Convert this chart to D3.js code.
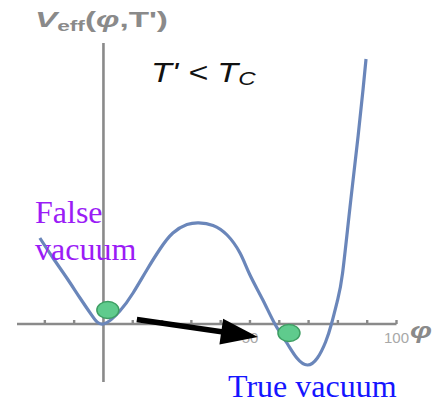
<!DOCTYPE html>
<html>
<head>
<meta charset="utf-8">
<script src="https://cdn.jsdelivr.net/npm/d3@7"></script>
<style>
  html, body { margin: 0; padding: 0; background: #fff; }
  svg { display: block; }
</style>
</head>
<body>
<svg id="chart" width="439" height="404"></svg>
<script>
// Effective potential V_eff(φ, T') below the critical temperature
const phi = [-21.7, -17.2, -12.5, -8.0, -3.9, 0, 5.6, 10.1, 14.8, 19.3, 23.7, 28.5, 32.5,
             37.4, 42.2, 46.6, 50.0, 54.4, 58.5, 62.6, 66.0, 69.6, 73.0, 75.8, 77.8, 79.9,
             81.6, 84.1, 86.9, 88.6, 89.6];
const veff = [43, 33, 23, 13, 4.2, 0, 6.5, 15.5, 27, 37.5, 45.5, 49.7, 50.6,
              49.3, 44.5, 35.5, 24.5, 12, 0, -9.5, -17, -20.5, -17, -9, 0, 12,
              25.5, 58, 94, 117.5, 132.5];

// x-axis ticks: minor every 10, labelled at 50 and 100
const minorTicks = [-20, -10, 10, 20, 30, 40, 50, 60, 70, 80, 90, 100];
const tickLabels = [50, 100];

// vacuum states (ball positions) and tunnelling arrow endpoints
const balls = [{phi: 1.5, v: 7}, {phi: 63.3, v: -4.5}];
const arrowFrom = {phi: 11.4, v: 2.25};
const arrowTo = {phi: 52.7, v: -6.5};

const svg = d3.select("#chart");
const x = d3.scaleLinear().domain([-29.5, 100]).range([17, 396.5]);
const y = d3.scaleLinear().domain([-29, 139.5]).range([382, 45]);

const axisColor = "#8a8a8a";

// stretch a text element horizontally so it spans [x0, x1]
function fitWidth(sel, x0, x1) {
  const w = sel.node().getBBox().width;
  const sx = (x1 - x0) / w;
  sel.attr("transform", `translate(${x0},0) scale(${sx},1) translate(${-x0},0)`);
}

// axes
const g = svg.append("g");
g.append("line")
  .attr("x1", x(-29.5)).attr("x2", x(100))
  .attr("y1", y(0)).attr("y2", y(0))
  .attr("stroke", axisColor).attr("stroke-width", 2.6);
g.append("line")
  .attr("x1", x(0)).attr("x2", x(0))
  .attr("y1", y(-29)).attr("y2", y(140.5))
  .attr("stroke", axisColor).attr("stroke-width", 2.6);

g.selectAll("line.tick").data(minorTicks).join("line")
  .attr("class", "tick")
  .attr("x1", d => x(d)).attr("x2", d => x(d))
  .attr("y1", y(0)).attr("y2", y(0) - 4)
  .attr("stroke", axisColor).attr("stroke-width", 2.4);

g.selectAll("text.ticklabel").data(tickLabels).join("text")
  .attr("class", "ticklabel")
  .attr("x", d => x(d)).attr("y", y(0) + 19)
  .attr("text-anchor", "middle")
  .attr("font-family", "Liberation Sans, Arial, sans-serif")
  .attr("font-size", 15)
  .attr("fill", "#a8a8a8")
  .text(d => d);

// axis label φ
const phiLabel = svg.append("text")
  .attr("x", 410).attr("y", 338)
  .attr("font-family", "Liberation Sans, Arial, sans-serif")
  .attr("font-size", 23).attr("font-weight", "bold").attr("font-style", "italic")
  .attr("fill", axisColor)
  .text("φ");
fitWidth(phiLabel, 410, 432);

// title V_eff(φ,T')
const title = svg.append("text")
  .attr("x", 35).attr("y", 27)
  .attr("font-family", "Liberation Sans, Arial, sans-serif")
  .attr("font-weight", "bold")
  .attr("fill", axisColor);
title.append("tspan").attr("font-size", 22).attr("font-style", "italic").text("V");
title.append("tspan").attr("font-size", 15).attr("dy", 4).text("eff");
title.append("tspan").attr("font-size", 22).attr("dy", -4).text("(");
title.append("tspan").attr("font-size", 22).attr("font-style", "italic").text("φ");
title.append("tspan").attr("font-size", 22).text(",T')");
fitWidth(title, 35, 168);

// T' < T_C
const cond = svg.append("text")
  .attr("x", 151).attr("y", 82)
  .attr("font-family", "Liberation Sans, Arial, sans-serif")
  .attr("font-style", "italic")
  .attr("fill", "#111");
cond.append("tspan").attr("font-size", 27).text("T' < T");
cond.append("tspan").attr("font-size", 19).attr("dy", 3).text("C");
fitWidth(cond, 151, 256);

// potential curve
const line = d3.line()
  .x(d => x(d[0]))
  .y(d => y(d[1]))
  .curve(d3.curveNatural);
svg.append("path")
  .datum(d3.zip(phi, veff))
  .attr("d", line)
  .attr("fill", "none")
  .attr("stroke", "#6a86ba")
  .attr("stroke-width", 3.2);

// balls at the false and true vacuum
svg.selectAll("ellipse.ball").data(balls).join("ellipse")
  .attr("class", "ball")
  .attr("cx", d => x(d.phi)).attr("cy", d => y(d.v))
  .attr("rx", 11).attr("ry", 8.5)
  .attr("fill", "#5fcb8d")
  .attr("stroke", "#3e9e63")
  .attr("stroke-width", 1.5);

// tunnelling arrow
const ax0 = x(arrowFrom.phi), ay0 = y(arrowFrom.v);
const ax1 = x(arrowTo.phi), ay1 = y(arrowTo.v);
const ang = Math.atan2(ay1 - ay0, ax1 - ax0);
const headLen = 37, headHalf = 13;
const bx = ax1 - headLen * Math.cos(ang), by = ay1 - headLen * Math.sin(ang);
svg.append("line")
  .attr("x1", ax0).attr("y1", ay0)
  .attr("x2", bx + 2 * Math.cos(ang)).attr("y2", by + 2 * Math.sin(ang))
  .attr("stroke", "#000").attr("stroke-width", 5.5);
svg.append("polygon")
  .attr("points", [
    [ax1, ay1],
    [bx - headHalf * Math.sin(ang), by + headHalf * Math.cos(ang)],
    [bx + headHalf * Math.sin(ang), by - headHalf * Math.cos(ang)]
  ].map(p => p.join(",")).join(" "))
  .attr("fill", "#000");

// annotations
const serif = "Liberation Serif, Times New Roman, serif";
const fv = svg.append("text")
  .attr("font-family", serif).attr("font-size", 32)
  .attr("fill", "#9b1cf6");
fv.append("tspan").attr("x", 35).attr("y", 223).text("False");
fv.append("tspan").attr("x", 35).attr("y", 260).text("vacuum");

svg.append("text")
  .attr("x", 228).attr("y", 397)
  .attr("font-family", serif).attr("font-size", 32)
  .attr("fill", "#1515ff")
  .text("True vacuum");
</script>
</body>
</html>
